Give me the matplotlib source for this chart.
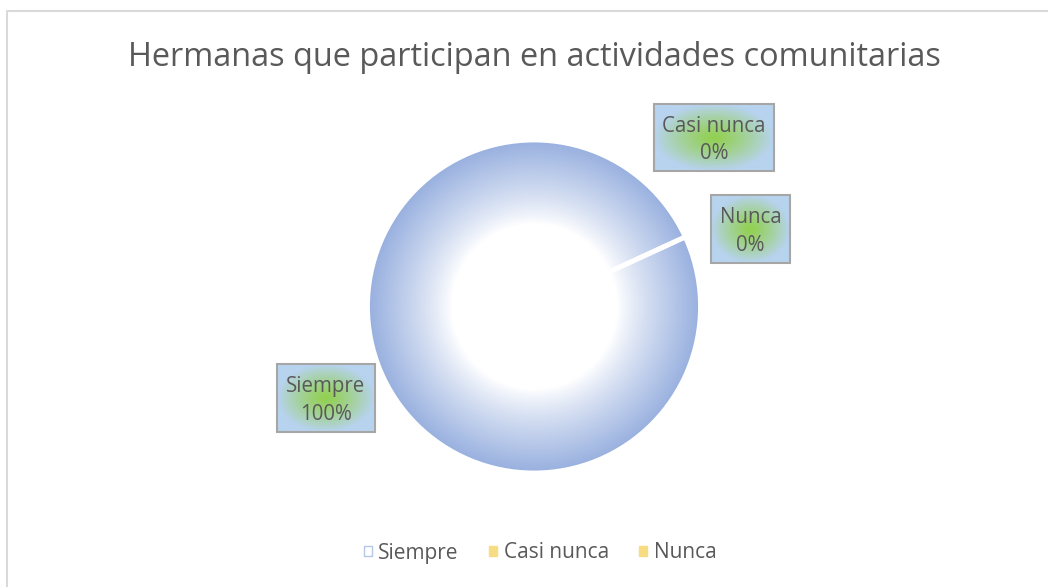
import numpy as np
import matplotlib
matplotlib.use("Agg")
import matplotlib.pyplot as plt
from matplotlib.patches import Rectangle, Patch
from matplotlib.colors import to_rgb

categories = ["Siempre", "Casi nunca", "Nunca"]
values = [100, 0, 0]
pct_labels = ["100%", "0%", "0%"]
title = "Hermanas que participan en actividades comunitarias"

W, H = 1048, 587
fig = plt.figure(figsize=(W / 100, H / 100), dpi=100)
ax = fig.add_axes([0, 0, 1, 1])
FONT = "Open Sans"
TXT = "#595959"

# pie axes
cx, cy, R = 534, 306.5, 166.5
pax = fig.add_axes([(cx - R) / W, (H - cy - R) / H, 2 * R / W, 2 * R / H])
blue_hex = "#98b0df"
wedges, _ = pax.pie(values, radius=1, startangle=24.7, counterclock=True,
                    wedgeprops=dict(facecolor=blue_hex, edgecolor="none", linewidth=0))
for w in wedges:
    w.set_zorder(1)

n = 500
yy, xx = np.mgrid[-1:1:n * 1j, -1:1:n * 1j]
r = np.sqrt(xx ** 2 + yy ** 2)
t = np.clip((r - 0.5) / 0.5, 0, 1) ** 0.85
rgba = np.ones((n, n, 4))
rgba[..., 3] = np.where(r <= 1.0, 1 - t, 0)
pax.imshow(rgba, extent=[-1, 1, -1, 1], zorder=2, interpolation="bilinear")

seps, _ = pax.pie(values, radius=1, startangle=24.7, counterclock=True,
                  wedgeprops=dict(facecolor="none", edgecolor="white", linewidth=3.5))
for w in seps:
    w.set_zorder(3)
pax.set_xlim(-1, 1)
pax.set_ylim(-1, 1)
pax.set_aspect("auto")
pax.axis("off")

ax.set_xlim(0, W)
ax.set_ylim(H, 0)
ax.axis("off")

# chart border
ax.plot([7, 7, W + 5], [H + 5, 10.5, 10.5], color="#d9d9d9", lw=1.5, zorder=0)

ax.text(534, 58, title, ha="center", va="center", fontsize=23.4, color=TXT, family=FONT)

# data label boxes (overlay axes on top of the pie)
lax = fig.add_axes([0, 0, 1, 1])
lax.set_xlim(0, W)
lax.set_ylim(H, 0)
lax.axis("off")
boxes = {"Casi nunca": (654, 104, 774, 171), "Nunca": (711, 195, 790, 263),
         "Siempre": (277, 364, 375, 432)}
green = np.array(to_rgb("#92d050"))
lblue = np.array(to_rgb("#b7d3ee"))
m = 120
by, bx = np.mgrid[-1:1:m * 1j, -1:1:m * 1j]
br = np.clip(np.sqrt(bx ** 2 + by ** 2), 0, 1) ** 1.2
bimg = (1 - br)[..., None] * green + br[..., None] * lblue
for cat, pl in zip(categories, pct_labels):
    x0, y0, x1, y1 = boxes[cat]
    lax.imshow(bimg, extent=[x0, x1, y1, y0], zorder=4, interpolation="bilinear")
    lax.add_patch(Rectangle((x0, y0), x1 - x0, y1 - y0, facecolor="none",
                            edgecolor="#a6a6a6", lw=1.5, zorder=5))
    lax.text((x0 + x1) / 2, (y0 + y1) / 2 + 2.5, f"{cat}\n{pl}", ha="center", va="center",
             fontsize=14.8, color=TXT, family=FONT, linespacing=1.4, zorder=6)
lax.set_xlim(0, W)
lax.set_ylim(H, 0)
lax.set_aspect("auto")

handles = [Patch(facecolor="white", edgecolor="#b4c7e7"),
           Patch(facecolor="#f8dc84", edgecolor="#f8dc84"),
           Patch(facecolor="#f8dc84", edgecolor="#f8dc84")]
fig.legend(handles, categories, loc="center", bbox_to_anchor=(540 / W, 1 - 553 / H),
           ncol=3, frameon=False, handlelength=0.4, handleheight=0.4,
           handletextpad=0.3, columnspacing=1.45, labelcolor=TXT,
           prop=dict(family=FONT, size=15))

fig.savefig("out.png", dpi=100)
